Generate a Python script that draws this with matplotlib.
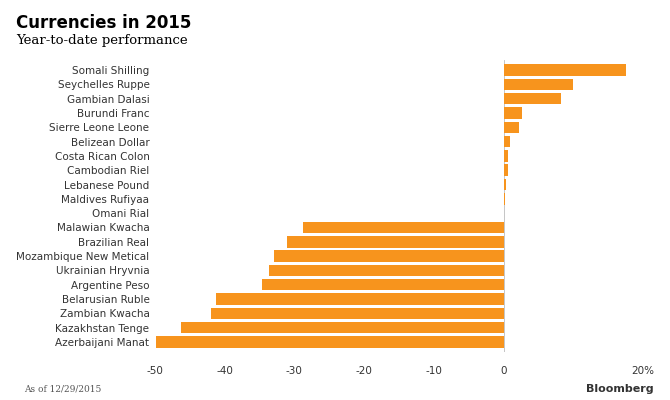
import matplotlib.pyplot as plt

currencies = ["Somali Shilling", "Seychelles Ruppe", "Gambian Dalasi", "Burundi Franc",
              "Sierre Leone Leone", "Belizean Dollar", "Costa Rican Colon", "Cambodian Riel",
              "Lebanese Pound", "Maldives Rufiyaa", "Omani Rial", "Malawian Kwacha",
              "Brazilian Real", "Mozambique New Metical", "Ukrainian Hryvnia", "Argentine Peso",
              "Belarusian Ruble", "Zambian Kwacha", "Kazakhstan Tenge", "Azerbaijani Manat"]
ytd = [17.6, 10.0, 8.3, 2.7, 2.2, 0.9, 0.7, 0.6, 0.3, 0.2, 0.1,
       -28.7, -31.1, -33.0, -33.6, -34.7, -41.2, -41.9, -46.3, -49.9]
ticks = [-50, -40, -30, -20, -10, 0, 20]
tick_labels = ["-50", "-40", "-30", "-20", "-10", "0", "20%"]

fig = plt.figure(figsize=(6.7, 4.0), dpi=100)
ax = fig.add_axes([155 / 670, 1 - 352 / 400, (643 - 155) / 670, (352 - 60) / 400])
y = list(range(len(currencies)))
ax.barh(y, ytd, height=0.8, color="#f7941d")
ax.set_ylim(len(currencies) - 0.3, -0.7)
ax.set_xlim(-50, 20)
ax.set_yticks(y)
ax.set_yticklabels(currencies, fontsize=7.5, color="#333333")
ax.set_xticks(ticks)
ax.set_xticklabels(tick_labels, fontsize=7.5, color="#333333")
ax.tick_params(length=0, pad=4)
ax.tick_params(axis="x", pad=10)
for s in ax.spines.values():
    s.set_visible(False)
ax.axvline(0, color="#bbbbbb", lw=0.6, zorder=0)

fig.text(0.024, 0.965, "Currencies in 2015", fontsize=12, fontweight="bold", va="top")
fig.text(0.024, 0.915, "Year-to-date performance", fontsize=9.5, family="DejaVu Serif", va="top")
fig.text(0.036, 0.02, "As of 12/29/2015", fontsize=6.5, family="DejaVu Serif", color="#555555")
fig.text(0.975, 0.02, "Bloomberg", fontsize=8, fontweight="bold", ha="right", color="#333333")
fig.savefig("out.png")
